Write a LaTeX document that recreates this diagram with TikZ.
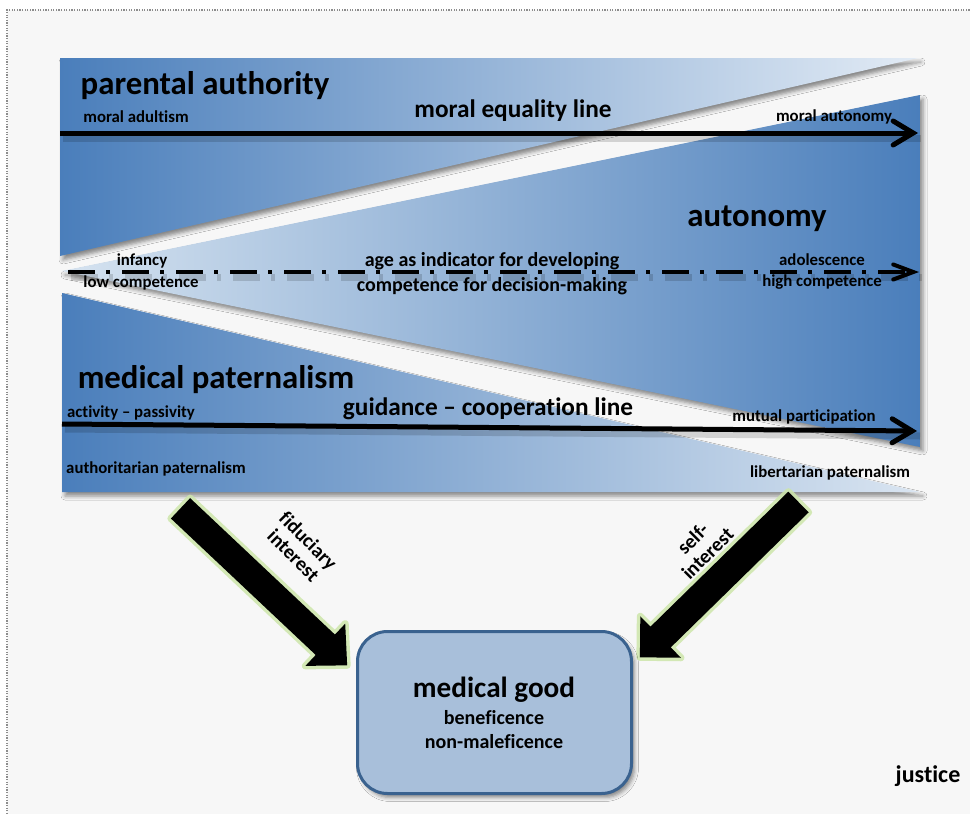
\documentclass[tikz,border=0pt]{standalone}
\usepackage{fontspec}
\setmainfont{Carlito}[Ligatures=NoCommon]
\usetikzlibrary{arrows.meta,shadows.blur}
\definecolor{dblue}{RGB}{74,126,187}
\definecolor{tlight}{RGB}{226,235,245}
\definecolor{mlight}{RGB}{214,227,240}
\definecolor{blight}{RGB}{218,229,241}
\definecolor{bglight}{RGB}{247,247,247}
\definecolor{boxfill}{RGB}{168,191,218}
\definecolor{boxdraw}{RGB}{58,98,143}
\definecolor{glowgreen}{RGB}{205,230,170}
\definecolor{bordergray}{RGB}{140,140,140}
\begin{document}
\begin{tikzpicture}[x=1pt,y=-1pt,
  band/.style={blur shadow={shadow xshift=3pt,shadow yshift=-4pt,shadow blur radius=4pt,shadow opacity=45}},
  lbl/.style={font=\bfseries\fontsize{16.8}{18}\selectfont, inner sep=0pt},
  midlbl/.style={font=\bfseries\fontsize{20}{21}\selectfont, inner sep=0pt},
  titlelbl/.style={font=\bfseries\fontsize{32.8}{34}\selectfont, inner sep=0pt},
  linelbl/.style={font=\bfseries\fontsize{25.3}{27}\selectfont, inner sep=0pt},
  goodlbl/.style={font=\bfseries\fontsize{29.2}{31}\selectfont, inner sep=0pt},
  mainline/.style={line width=5pt, -{Straight Barb[length=20pt,width=24pt,line cap=round]}},
  dashline/.style={line width=4pt, dash pattern=on 27pt off 11pt on 4pt off 12pt, -{Straight Barb[length=20pt,width=15pt,line cap=round]}},
  lshadow/.style={draw=black, opacity=0.15, line width=7pt, transform canvas={shift={(3pt,-5pt)}}},
  bigarrow/.style={fill=black, preaction={draw=glowgreen, line width=7pt, line join=round, opacity=0.85}},
]
\useasboundingbox (0,0) rectangle (970,814);
\fill[white] (0,0) rectangle (970,814);
\fill[bglight] (7,10) rectangle (970,814);
\coordinate (frameBL) at (7,814);
\coordinate (frameTL) at (7,10);
\coordinate (frameTR) at (970,10);
\draw[bordergray, line width=1.2pt, dash pattern=on 1.2pt off 1.4pt] (frameBL) -- (frameTL) -- (frameTR);

% bands
\shade[band, left color=dblue, right color=tlight] (60,58) -- (918,58) -- (60,256) -- cycle;
\shade[band, left color=mlight, right color=dblue] (62,271) -- (920,95) -- (920,447) -- cycle;
\shade[band, left color=dblue, right color=blight] (62,293) -- (920,492) -- (62,492) -- cycle;

% lines
\coordinate (meS) at (60,133);
\coordinate (meE) at (918,133);
\coordinate (ddS) at (68,272);
\coordinate (ddE) at (919,272);
\coordinate (gcS) at (62,424);
\coordinate (gcE) at (917,431);
\path[lshadow] (meS) -- (meE);
\path[lshadow, dash pattern=on 27pt off 11pt on 4pt off 12pt] (ddS) -- (ddE);
\path[lshadow] (gcS) -- (gcE);
\draw[mainline] (meS) -- (meE);
\draw[dashline] (ddS) -- (ddE);
\draw[mainline] (gcS) -- (gcE);

% texts in bands
\node[titlelbl] (pa) at (205,86) {parental authority};
\node[lbl] (madult) at (136,117) {moral adultism};
\node[linelbl] (meq) at (513,111) {moral equality line};
\node[lbl] (mauto) at (834,117) {moral autonomy};
\node[titlelbl] (auto) at (757,219) {autonomy};
\node[lbl] (inf) at (142,261) {infancy};
\node[lbl] (lowc) at (141,283) {low competence};
\node[midlbl] (age1) at (492,261) {age as indicator for developing};
\node[midlbl] (age2) at (492,286) {competence for decision-making};
\node[lbl] (adol) at (822,260) {adolescence};
\node[lbl] (highc) at (822,282) {high competence};
\node[titlelbl] (mp) at (216,380) {medical paternalism};
\node[lbl] (actp) at (131,413) {activity -- passivity};
\node[linelbl] (gcl) at (488,409) {guidance -- cooperation line};
\node[lbl] (mutp) at (804,417) {mutual participation};
\node[lbl] (authp) at (156,469) {authoritarian paternalism};
\node[lbl] (libp) at (830,473) {libertarian paternalism};

% big arrows
\coordinate (fidT) at (180.5,508.3);
\coordinate (selfT) at (798.5,502);
\begin{scope}[shift={(fidT)}, rotate=-43.3]
\path[bigarrow] (0,-14) -- (199,-14) -- (199,-29) -- (229,0) -- (199,29) -- (199,14) -- (0,14) -- cycle;
\end{scope}
\begin{scope}[shift={(selfT)}, rotate=-135.6]
\path[bigarrow] (0,-14.5) -- (193,-14.5) -- (193,-29) -- (222,0) -- (193,29) -- (193,14.5) -- (0,14.5) -- cycle;
\end{scope}
\node[midlbl, rotate=-45, align=center] (fid) at (301,548) {fiduciary\\interest};
\node[midlbl, rotate=45, align=center] (selfi) at (700,546) {self-\\interest};

% medical good box
\node[draw=boxdraw, line width=3pt, fill=boxfill, rounded corners=30pt, minimum width=274pt, minimum height=162pt, inner sep=0pt,
  blur shadow={shadow xshift=3pt,shadow yshift=-4pt,shadow blur radius=4pt,shadow opacity=45}] (box) at (494.5,712.5) {};
\node[goodlbl] (mg) at (494,690) {medical good};
\node[midlbl] (ben) at (494,718) {beneficence};
\node[midlbl] (nonm) at (494,742) {non-maleficence};

\node[font=\bfseries\fontsize{24}{26}\selectfont, inner sep=0pt] (just) at (928,776) {justice};
\end{tikzpicture}
\end{document}
